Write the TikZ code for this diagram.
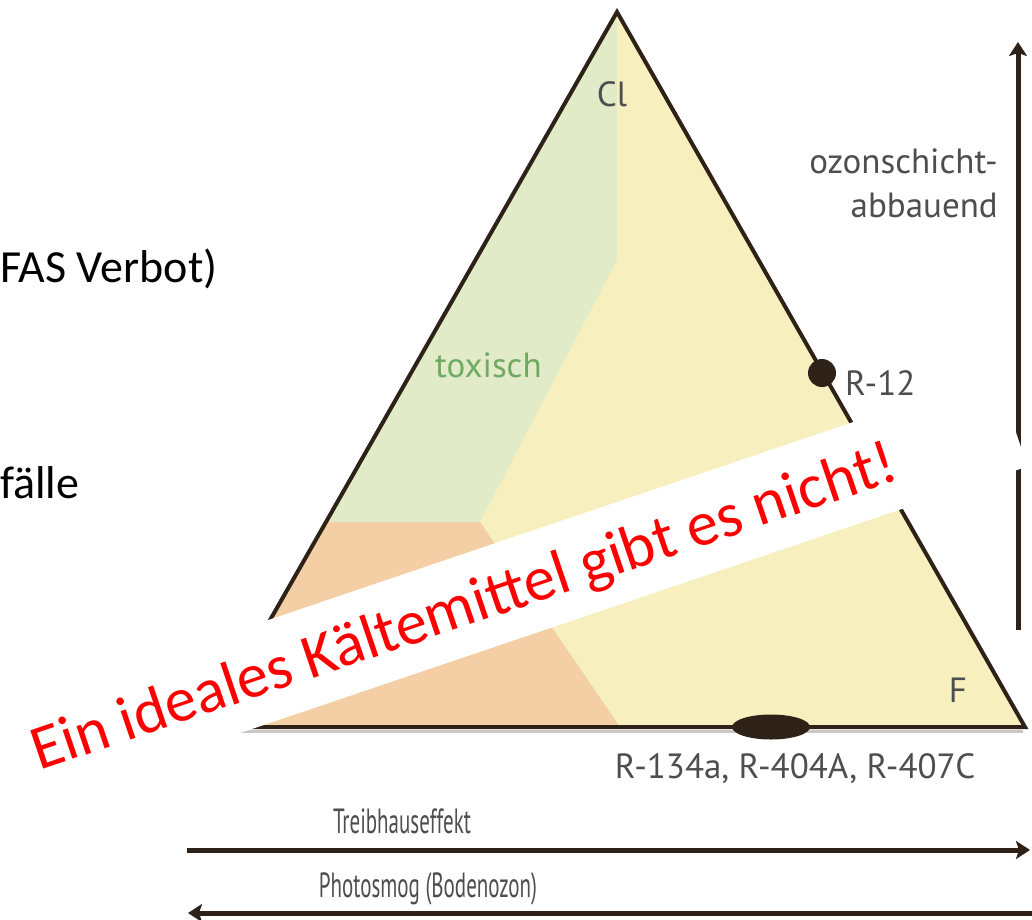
\documentclass[tikz,border=0pt]{standalone}
\usepackage{fontspec}
\setmainfont{Carlito}
\newfontfamily\labfont{PT Sans}
\newfontfamily\narrowfont[FakeStretch=0.6]{PT Sans}
\usetikzlibrary{arrows.meta,calc,shapes.geometric}
\definecolor{linebrown}{HTML}{2E2118}
\definecolor{fillgreen}{HTML}{E2EBC8}
\definecolor{fillyellow}{HTML}{F7F0BE}
\definecolor{fillorange}{HTML}{F4CFA5}
\definecolor{labelgray}{HTML}{4E4E4E}
\definecolor{toxtext}{HTML}{6FAA62}
\tikzset {>={Stealth[length=14pt,width=18pt,inset=3pt]}}
\tikzset{
  edge/.style={line width=4pt,draw=linebrown,line join=miter},
  shadowline/.style={line width=3pt,draw=black!22},
  axisarrow/.style={line width=5pt,draw=linebrown,->},
  lbl/.style={font=\labfont\fontsize{35}{35}\selectfont,text=labelgray,inner sep=0pt},
  narrowlbl/.style={font=\narrowfont\fontsize{35}{35}\selectfont,text=labelgray,inner sep=0pt},
  slidetext/.style={font=\fontsize{46}{46}\selectfont,inner sep=0pt,anchor=base west}
}

\begin{document}
\begin{tikzpicture}[x=1pt,y=-1pt]
\useasboundingbox (0,0) rectangle (1032,919);
\clip (0,0) rectangle (1032,919);
% corners of the triangle
\coordinate (top) at (617,12);
\coordinate (bl) at (209,727);
\coordinate (br) at (1025,727);
% region borders
\coordinate (gtop) at (617,260);
\coordinate (gmid) at (480,522);
\coordinate (gleft) at (326,522);
\coordinate (obot) at (620,727);
\fill[fillyellow] (top) -- (br) -- (bl) -- cycle;
\fill[fillgreen] (top) -- (gtop) -- (gmid) -- (gleft) -- cycle;
\fill[fillorange] (gleft) -- (gmid) -- (obot) -- (bl) -- cycle;
\draw[shadowline] ($(bl)+(0,4)$) -- ($(br)+(-2,4)$);
\draw[edge] (top) -- (br) -- (bl) -- cycle;
% refrigerants
\node[circle,fill=linebrown,minimum size=28pt,inner sep=0pt] (r12pt) at (822,373) {};
\node[ellipse,fill=linebrown,minimum width=78pt,minimum height=25pt,inner sep=0pt] (mixpt) at (771,727) {};
\node[lbl] (cl) at (612,94) {Cl};
\node[lbl,text=toxtext,anchor=base west] (tox) at (435,377) {toxisch};
\node[lbl,anchor=base west] (r12) at (845,395) {R-12};
\node[lbl] (fl) at (958,690) {F};
\node[lbl,anchor=base] (mix) at (795,778) {R-134a, R-404A, R-407C};
\node[lbl,anchor=base east] (ozon) at (998,173) {ozonschicht-};
\node[lbl,anchor=base east] (abbau) at (998,217) {abbauend};
% axes
\coordinate (vbot) at (1018,630);
\coordinate (vtop) at (1018,42);
\draw[axisarrow] (vbot) -- (vtop);
\coordinate (treibl) at (187,850);
\coordinate (treibr) at (1030,850);
\draw[axisarrow] (treibl) -- (treibr);
\node[narrowlbl,anchor=base] (treib) at (402,833) {Treibhauseffekt};
\coordinate (smogr) at (1034,913);
\coordinate (smogl) at (188,913);
\draw[axisarrow] (smogr) -- (smogl);
\node[narrowlbl,anchor=base] (smog) at (428,897) {Photosmog (Bodenozon)};
% banner
\node[fill=white,rotate=18.7,minimum width=1200pt,minimum height=98pt,inner sep=0pt,anchor=east] (banner) at (1012,420) {};
\node[font=\fontsize{63}{63}\selectfont,text=red,rotate=18.7,anchor=base,inner sep=0pt] (ideal) at (470,625) {Ein ideales Kältemittel gibt es nicht!};
% rest of the slide
\node[slidetext] (fas) at (0,282) {FAS Verbot)};
\node[slidetext] (faelle) at (0,498) {fälle};
\end{tikzpicture}
\end{document}
